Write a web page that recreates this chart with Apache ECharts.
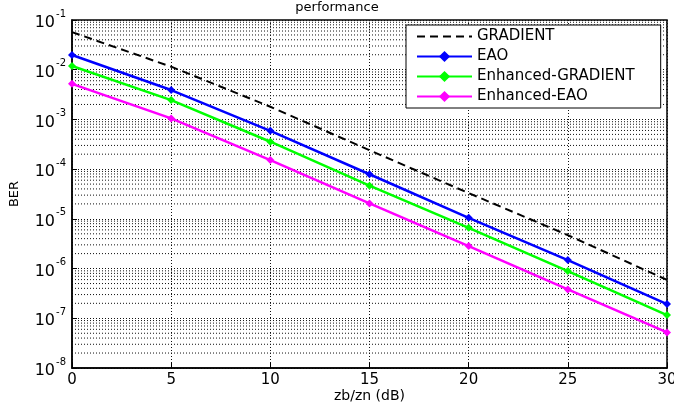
<!DOCTYPE html>
<html>
<head>
<meta charset="utf-8">
<script src="https://cdn.jsdelivr.net/npm/echarts@6/dist/echarts.min.js"></script>
<style>
  html, body { margin: 0; padding: 0; background: #fff; }
  #chart { width: 674px; height: 404px; }
</style>
</head>
<body>
<div id="chart"></div>
<script>
// SNR points (dB)
const snr = [0, 5, 10, 15, 20, 25, 30];

// BER values
const gradient = [5.7e-2, 1.15e-2, 1.8e-3, 2.4e-4, 3.3e-5, 4.7e-6, 5.9e-7];
const eao = [1.98e-2, 3.9e-3, 5.9e-4, 7.9e-5, 1.05e-5, 1.48e-6, 1.93e-7];
const enhGradient = [1.19e-2, 2.45e-3, 3.56e-4, 4.66e-5, 6.6e-6, 8.9e-7, 1.16e-7];
const enhEao = [5.2e-3, 1.05e-3, 1.52e-4, 2.04e-5, 2.84e-6, 3.8e-7, 5.2e-8];

const seriesNames = ['GRADIENT', 'EAO', 'Enhanced-GRADIENT', 'Enhanced-EAO'];

// minor log grid: 2..9 in each decade
const decades = [-8, -7, -6, -5, -4, -3, -2];
const minorMultipliers = [2, 3, 4, 5, 6, 7, 8, 9];

const fontFamily = 'DejaVu Sans';
const gridDash = [1, 2];
const gridColor = '#111';

function pairs(values) {
    return snr.map((x, i) => [x, values[i]]);
}

// each minor line goes from first to last snr at a given BER
const minorLines = [];
decades.forEach(d => {
    minorMultipliers.forEach(m => {
        minorLines.push([snr[0], m * Math.pow(10, d), snr[snr.length - 1]]);
    });
});

const chart = echarts.init(document.getElementById('chart'));

function lineSeries(name, values, color) {
    return {
        name: name,
        type: 'line',
        data: pairs(values),
        symbol: 'diamond',
        symbolSize: 8,
        lineStyle: { color: color, width: 2.5 },
        itemStyle: { color: color },
        z: 5
    };
}

chart.setOption({
    animation: false,
    title: {
        text: 'performance',
        left: 'center',
        top: -4,
        textStyle: { fontFamily: fontFamily, fontSize: 13, fontWeight: 'normal', color: '#000' }
    },
    grid: {
        left: 72, right: 7, top: 20, bottom: 36,
        outerBoundsMode: 'none',
        containLabel: false,
        show: true, borderColor: '#000', borderWidth: 1.5
    },
    legend: {
        data: [
            { name: 'GRADIENT', itemStyle: { opacity: 0 } },
            'EAO', 'Enhanced-GRADIENT', 'Enhanced-EAO'
        ],
        orient: 'vertical',
        left: 406,
        top: 25,
        padding: [4, 26, 4, 10],
        itemGap: 5,
        itemWidth: 55,
        itemHeight: 14,
        backgroundColor: '#fff',
        borderColor: '#000',
        borderWidth: 1,
        borderRadius: 0,
        textStyle: { fontFamily: fontFamily, fontSize: 15, color: '#000' }
    },
    xAxis: {
        type: 'value',
        min: 0,
        max: 30,
        interval: 5,
        name: 'zb/zn (dB)',
        nameLocation: 'middle',
        nameGap: 21,
        nameMoveOverlap: false,
        nameTextStyle: { fontFamily: fontFamily, fontSize: 14, color: '#000' },
        axisLine: { lineStyle: { color: '#000', width: 1.5 } },
        axisTick: { inside: true, length: 5, lineStyle: { color: '#000' } },
        axisLabel: { fontFamily: fontFamily, fontSize: 15, color: '#000', margin: 5 },
        splitLine: { show: true, lineStyle: { color: gridColor, type: gridDash, width: 1 } }
    },
    yAxis: {
        type: 'log',
        logBase: 10,
        min: 1e-8,
        max: 1e-1,
        name: 'BER',
        nameLocation: 'middle',
        nameGap: 51,
        nameMoveOverlap: false,
        nameTextStyle: { fontFamily: fontFamily, fontSize: 13, color: '#000' },
        axisLine: { show: true, lineStyle: { color: '#000', width: 1.5 } },
        axisTick: { inside: true, length: 5, lineStyle: { color: '#000' } },
        axisLabel: {
            margin: 6,
            formatter: v => '{b|10}{s|' + Math.round(Math.log10(v)) + '}',
            rich: {
                b: { fontFamily: fontFamily, fontSize: 16, color: '#000', padding: [6, 0, 0, 0] },
                s: { fontFamily: fontFamily, fontSize: 10, color: '#000', verticalAlign: 'top', padding: [0, 0, 0, 1] }
            }
        },
        splitLine: { show: true, lineStyle: { color: gridColor, type: gridDash, width: 1 } }
    },
    series: [
        {
            type: 'custom',
            silent: true,
            data: minorLines,
            encode: { x: [0, 2], y: 1 },
            renderItem: (params, api) => {
                const p1 = api.coord([api.value(0), api.value(1)]);
                const p2 = api.coord([api.value(2), api.value(1)]);
                return {
                    type: 'line',
                    shape: { x1: p1[0], y1: p1[1], x2: p2[0], y2: p2[1] },
                    style: { stroke: gridColor, lineWidth: 1, lineDash: gridDash }
                };
            },
            z: 1
        },
        {
            name: 'GRADIENT',
            type: 'line',
            data: pairs(gradient),
            symbol: 'none',
            lineStyle: { color: '#000', width: 2, type: [8, 5] },
            itemStyle: { color: '#000' },
            z: 4
        },
        lineSeries('EAO', eao, '#0000ff'),
        lineSeries('Enhanced-GRADIENT', enhGradient, '#00ff00'),
        lineSeries('Enhanced-EAO', enhEao, '#ff00ff')
    ]
});
</script>
</body>
</html>
